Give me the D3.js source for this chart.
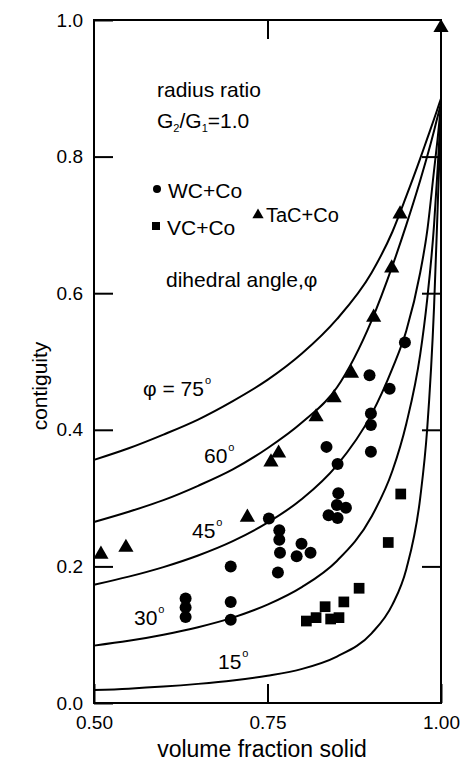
<!DOCTYPE html>
<html>
<head>
<meta charset="utf-8">
<script src="https://cdn.jsdelivr.net/npm/d3@7"></script>
<style>
body { margin: 0; background: #fff; }
svg text { font-family: "Liberation Sans", Arial, sans-serif; fill: #000; }
</style>
</head>
<body>
<svg id="chart" width="465" height="763"></svg>
<script>
// volume fraction solid at which the model curves were read
const fracSolid = [0.50, 0.55, 0.60, 0.65, 0.70, 0.75, 0.80, 0.85, 0.90, 0.93, 0.95, 0.97, 0.98, 0.99, 0.995, 1.00];
// contiguity
const phi15 = [0.019, 0.021, 0.024, 0.028, 0.033, 0.040, 0.050, 0.068, 0.102, 0.144, 0.196, 0.300, 0.400, 0.580, 0.720, 0.865];
const phi30 = [0.084, 0.091, 0.100, 0.111, 0.125, 0.144, 0.170, 0.208, 0.273, 0.340, 0.409, 0.510, 0.590, 0.700, 0.780, 0.870];
const phi45 = [0.173, 0.185, 0.199, 0.216, 0.237, 0.264, 0.299, 0.348, 0.423, 0.490, 0.545, 0.630, 0.690, 0.780, 0.825, 0.875];
const phi60 = [0.265, 0.280, 0.297, 0.318, 0.342, 0.373, 0.411, 0.462, 0.560, 0.640, 0.700, 0.765, 0.800, 0.838, 0.858, 0.878];
const phi75 = [0.356, 0.373, 0.393, 0.415, 0.442, 0.473, 0.512, 0.562, 0.630, 0.690, 0.742, 0.797, 0.826, 0.855, 0.870, 0.885];

// measured points [volume fraction solid, contiguity]
const wcCo = [[0.632,0.153],[0.632,0.140],[0.632,0.126],[0.697,0.200],[0.697,0.148],[0.697,0.122],
  [0.765,0.191],[0.792,0.215],[0.767,0.253],[0.767,0.239],[0.768,0.220],[0.799,0.233],[0.812,0.220],
  [0.752,0.270],[0.835,0.375],[0.851,0.350],[0.852,0.307],[0.850,0.290],[0.838,0.275],[0.851,0.271],
  [0.863,0.286],[0.899,0.424],[0.899,0.407],[0.899,0.368],[0.897,0.480],[0.926,0.460],[0.948,0.528]];
const vcCo = [[0.806,0.120],[0.820,0.125],[0.833,0.141],[0.841,0.123],[0.853,0.125],[0.860,0.148],
  [0.882,0.168],[0.924,0.235],[0.942,0.306]];
const tacCo = [[0.510,0.221],[0.546,0.231],[0.721,0.275],[0.755,0.356],[0.766,0.369],[0.820,0.422],
  [0.846,0.450],[0.871,0.486],[0.903,0.568],[0.929,0.640],[0.941,0.719],[1.000,0.992]];

const xTicks = [0.50, 0.75, 1.00];
const yTicks = [0.0, 0.2, 0.4, 0.6, 0.8, 1.0];

const width = 465, height = 763;
const margin = {top: 20, right: 24, bottom: 60, left: 94};
const tick = 19;

const svg = d3.select("#chart");

const x = d3.scaleLinear().domain([0.5, 1.0]).range([margin.left, width - margin.right]);
const y = d3.scaleLinear().domain([0, 1]).range([height - margin.bottom, margin.top]);

// model curves
const curves = [phi15, phi30, phi45, phi60, phi75];
const line = d3.line().x(d => x(d[0])).y(d => y(d[1])).curve(d3.curveMonotoneX);
svg.append("g")
  .selectAll("path")
  .data(curves)
  .join("path")
  .attr("d", c => line(fracSolid.map((v, i) => [v, c[i]])))
  .attr("fill", "none")
  .attr("stroke", "#000")
  .attr("stroke-width", 2);

// axes, ticks pointing inwards
function styleAxis(g) {
  g.select(".domain").remove();
  g.selectAll(".tick line").attr("stroke", "#000").attr("stroke-width", 2);
  g.selectAll(".tick text").attr("font-size", 19).attr("font-family", null).attr("fill", "#000");
}
svg.append("g")
  .attr("transform", `translate(${margin.left},0)`)
  .call(d3.axisLeft(y).tickValues(yTicks).tickFormat(d3.format(".1f")).tickSize(-tick).tickSizeOuter(0).tickPadding(11))
  .call(styleAxis);
svg.append("g")
  .attr("transform", `translate(${width - margin.right},0)`)
  .call(d3.axisRight(y).tickValues(yTicks.slice(1, -1)).tickFormat("").tickSize(-tick).tickSizeOuter(0))
  .call(styleAxis);
svg.append("g")
  .attr("transform", `translate(0,${height - margin.bottom})`)
  .call(d3.axisBottom(x).tickValues(xTicks).tickFormat(d3.format(".2f")).tickSize(-tick).tickSizeOuter(0).tickPadding(13))
  .call(styleAxis);
svg.append("g")
  .attr("transform", `translate(0,${margin.top})`)
  .call(d3.axisTop(x).tickValues([0.75]).tickFormat("").tickSize(-tick).tickSizeOuter(0))
  .call(styleAxis);

svg.append("rect")
  .attr("x", margin.left).attr("y", margin.top)
  .attr("width", width - margin.left - margin.right)
  .attr("height", height - margin.top - margin.bottom)
  .attr("fill", "none").attr("stroke", "#000").attr("stroke-width", 2);

// data markers
const triSize = 100;
const triShift = Math.sqrt(triSize / (Math.sqrt(3) / 4)) * Math.sqrt(3) / 2 / 6;
svg.append("g").selectAll("circle").data(wcCo).join("circle")
  .attr("cx", d => x(d[0])).attr("cy", d => y(d[1])).attr("r", 6).attr("fill", "#000");
svg.append("g").selectAll("path").data(vcCo).join("path")
  .attr("d", d3.symbol(d3.symbolSquare, 115))
  .attr("transform", d => `translate(${x(d[0])},${y(d[1])})`).attr("fill", "#000");
svg.append("g").selectAll("path").data(tacCo).join("path")
  .attr("d", d3.symbol(d3.symbolTriangle, triSize))
  .attr("transform", d => `translate(${x(d[0])},${y(d[1]) + triShift})`).attr("fill", "#000");

// legend
svg.append("circle").attr("cx", 157).attr("cy", 189).attr("r", 4).attr("fill", "#000");
svg.append("path").attr("d", d3.symbol(d3.symbolSquare, 64)).attr("transform", "translate(156,226)");
svg.append("path").attr("d", d3.symbol(d3.symbolTriangle, 55)).attr("transform", "translate(258,215)");
svg.append("text").attr("x", 168).attr("y", 198).attr("font-size", 21).text("WC+Co");
svg.append("text").attr("x", 167).attr("y", 235).attr("font-size", 21).text("VC+Co");
svg.append("text").attr("x", 266).attr("y", 222).attr("font-size", 20).text("TaC+Co");

// annotations
svg.append("text").attr("x", 157).attr("y", 97).attr("font-size", 21).text("radius ratio");
const gr = svg.append("text").attr("x", 157).attr("y", 128).attr("font-size", 21);
gr.append("tspan").text("G");
gr.append("tspan").attr("font-size", 11).attr("dy", 4).text("2");
gr.append("tspan").attr("dy", -4).text("/G");
gr.append("tspan").attr("font-size", 11).attr("dy", 4).text("1");
gr.append("tspan").attr("dy", -4).text("=1.0");
svg.append("text").attr("x", 166).attr("y", 287).attr("font-size", 21).text("dihedral angle,φ");

function degLabel(px, py, txt) {
  const t = svg.append("text").attr("x", px).attr("y", py).attr("font-size", 21);
  t.append("tspan").text(txt);
  t.append("tspan").attr("font-size", 11).attr("dy", -12).attr("dx", 1).text("o");
}
degLabel(143, 396, "φ = 75");
degLabel(204, 463, "60");
degLabel(192, 538, "45");
degLabel(134, 625, "30");
degLabel(218, 669, "15");

// axis titles
svg.append("text").attr("x", 262).attr("y", 757).attr("font-size", 23)
  .attr("text-anchor", "middle").text("volume fraction solid");
svg.append("text").attr("transform", "translate(47,386) rotate(-90)").attr("font-size", 21)
  .attr("text-anchor", "middle").text("contiguity");
</script>
</body>
</html>
